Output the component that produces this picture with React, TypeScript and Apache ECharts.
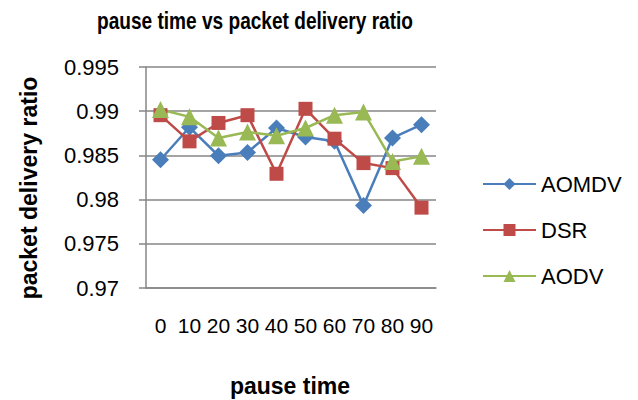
import React, { useEffect, useRef } from "react";
import * as echarts from "echarts";

const categories = ["0", "10", "20", "30", "40", "50", "60", "70", "80", "90"];
const aomdv = [0.98451, 0.98818, 0.98496, 0.98534, 0.9881, 0.98708, 0.98659, 0.97932, 0.98697, 0.98848];
const dsr = [0.98955, 0.98659, 0.98867, 0.98955, 0.98292, 0.99027, 0.98689, 0.98413, 0.98356, 0.97909];
const aodv = [0.99019, 0.98936, 0.98697, 0.98765, 0.98723, 0.9881, 0.98955, 0.98992, 0.98432, 0.98489];

const FONT = "'Liberation Sans', Arial, sans-serif";

export default function App() {
  const ref = useRef<HTMLDivElement>(null);
  useEffect(() => {
    if (!ref.current) return;
    const chart = echarts.init(ref.current, null, { renderer: "svg" });
    const mk = (name: string, data: number[], color: string, symbol: string, size: number) => ({
      name,
      type: "line",
      data,
      symbol,
      symbolSize: size,
      lineStyle: { color, width: 2.5 },
      itemStyle: { color },
      emphasis: { disabled: true },
    });
    chart.setOption({
      animation: false,
      backgroundColor: "#ffffff",
      textStyle: { fontFamily: FONT },
      graphic: [
        {
          type: "text",
          x: 255,
          y: 21,
          scaleX: 0.83,
          style: {
            text: "pause time vs packet delivery ratio",
            font: `bold 23px ${FONT}`,
            fill: "#000",
            align: "center",
            verticalAlign: "middle",
          },
        },
        {
          type: "text",
          x: 29,
          y: 188,
          rotation: Math.PI / 2,
          scaleX: 0.96,
          style: {
            text: "packet delivery ratio",
            font: `bold 24px ${FONT}`,
            fill: "#000",
            align: "center",
            verticalAlign: "middle",
          },
        },
        {
          type: "text",
          x: 290,
          y: 386,
          style: {
            text: "pause time",
            font: `bold 23px ${FONT}`,
            fill: "#000",
            align: "center",
            verticalAlign: "middle",
          },
        },
      ],
      grid: { left: 146, right: 202, top: 67, bottom: 112, containLabel: false },
      legend: {
        orient: "vertical",
        left: 477,
        top: 168,
        itemWidth: 53,
        itemHeight: 15,
        itemGap: 24,
        textStyle: { fontSize: 22, color: "#000", fontFamily: FONT },
        data: ["AOMDV", "DSR", "AODV"],
      },
      xAxis: {
        type: "category",
        data: categories,
        boundaryGap: true,
        axisLine: { lineStyle: { color: "#868686", width: 1.5 } },
        axisTick: { show: false },
        axisLabel: { fontSize: 21, color: "#000", margin: 27, interval: 0 },
      },
      yAxis: {
        type: "value",
        min: 0.97,
        max: 0.995,
        interval: 0.005,
        axisLine: { show: true, lineStyle: { color: "#868686", width: 1.5 } },
        axisTick: { show: true, length: 7, lineStyle: { color: "#868686", width: 1.5 } },
        axisLabel: { fontSize: 22, color: "#000", margin: 27 },
        splitLine: { lineStyle: { color: "#868686", width: 1.5 } },
      },
      series: [
        mk("AOMDV", aomdv, "#4A7EBB", "diamond", 17),
        mk("DSR", dsr, "#BE4B48", "rect", 14),
        mk("AODV", aodv, "#98B954", "triangle", 17),
      ],
    });
    return () => chart.dispose();
  }, []);
  return <div ref={ref} style={{ width: 638, height: 400, position: "absolute", left: 0, top: 0 }} />;
}
